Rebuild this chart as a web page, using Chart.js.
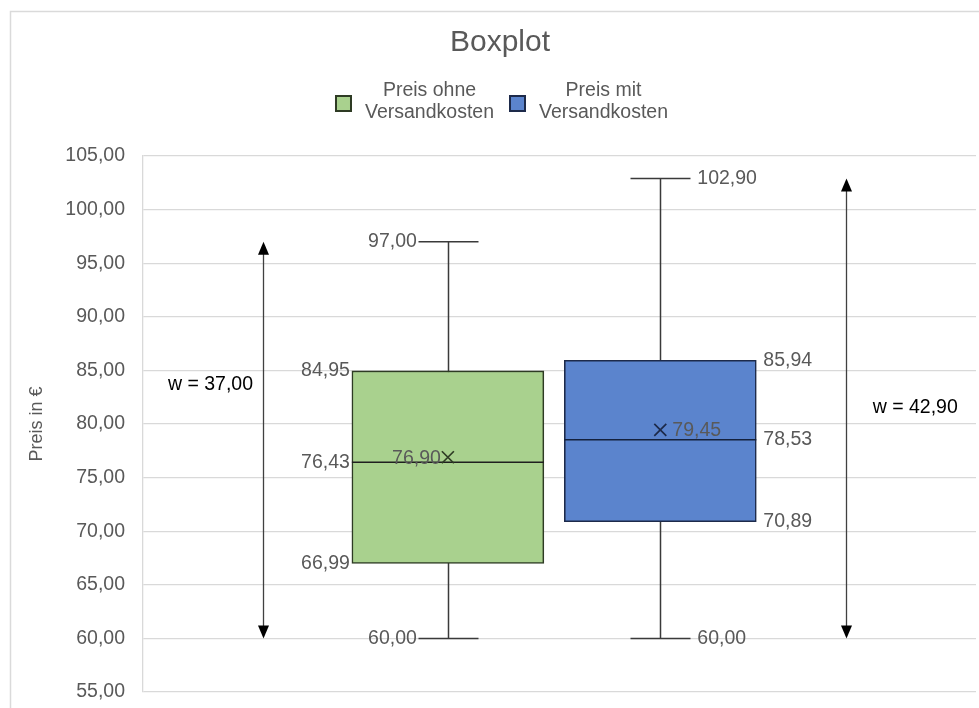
<!DOCTYPE html>
<html>
<head>
<meta charset="utf-8">
<script src="https://cdn.jsdelivr.net/npm/chart.js@4.4.1/dist/chart.umd.min.js"></script>
<style>
  html, body { margin: 0; padding: 0; background: #ffffff; }
  #wrap { width: 979px; height: 708px; }
</style>
</head>
<body>
<div id="wrap"><canvas id="c" width="979" height="708"></canvas></div>
<script>
// Five-number summary plus mean for each price series
const seriesNames  = [['Preis ohne', 'Versandkosten'], ['Preis mit', 'Versandkosten']];
const minValues    = [60.00, 60.00];
const q1Values     = [66.99, 70.89];
const medianValues = [76.43, 78.53];
const q3Values     = [84.95, 85.94];
const maxValues    = [97.00, 102.90];
const meanValues   = [76.90, 79.45];
const yTickValues  = [55, 60, 65, 70, 75, 80, 85, 90, 95, 100, 105];

const FONT = "'Liberation Sans', Arial, sans-serif";
const TEXT = '#595959';
const fmt = v => v.toFixed(2).replace('.', ',');

// Placement on the hidden 0..100 horizontal scale and per-series styling
const place = {
  boxX: [36.6, 62.1],
  arrowX: [14.4, 84.4],
  rangeLabel: [{ x: 8.1, y: 83.7 }, { x: 92.7, y: 81.5 }]
};
const styles = [
  { fill: '#a9d18e', edge: '#2e3b24', median: '#1f1f1f', side: 'left' },
  { fill: '#5b84cd', edge: '#1d2a4a', median: '#14213d', side: 'right' }
];
const BOX_W = 192, CAP_HALF = 30;

const boxplotMarks = {
  id: 'boxplotMarks',
  beforeDraw(chart) {
    const ctx = chart.ctx;
    ctx.save();
    ctx.fillStyle = '#ffffff';
    ctx.fillRect(0, 0, chart.width, chart.height);
    // outer frame
    ctx.strokeStyle = '#dadada';
    ctx.lineWidth = 1.5;
    ctx.strokeRect(10.5, 11.5, 1000, 740);
    // title
    ctx.fillStyle = TEXT;
    ctx.font = `30px ${FONT}`;
    ctx.textAlign = 'center';
    ctx.textBaseline = 'middle';
    ctx.fillText('Boxplot', 500, 43);
    // legend with two-line entries
    ctx.font = `19.5px ${FONT}`;
    const sq = 15, gapIn = 14, gapOut = 16;
    const widths = seriesNames.map(l => Math.max(...l.map(t => ctx.measureText(t).width)));
    const total = widths.reduce((a, w) => a + sq + gapIn + w, 0) + gapOut;
    let x = 502 - total / 2;
    seriesNames.forEach((lines, i) => {
      ctx.fillStyle = styles[i].fill;
      ctx.fillRect(x, 96, sq, sq);
      ctx.strokeStyle = styles[i].edge;
      ctx.lineWidth = 2;
      ctx.strokeRect(x, 96, sq, sq);
      const cx = x + sq + gapIn + widths[i] / 2;
      ctx.fillStyle = TEXT;
      ctx.textAlign = 'center';
      ctx.fillText(lines[0], cx, 91);
      ctx.fillText(lines[1], cx, 113);
      x += sq + gapIn + widths[i] + gapOut;
    });
    ctx.restore();
  },
  beforeDatasetsDraw(chart) {
    const { ctx, scales: { x: xs, y: ys } } = chart;
    ctx.save();
    ctx.strokeStyle = '#3a3a3a';
    ctx.lineWidth = 1.5;
    minValues.forEach((mn, i) => {
      const cx = Math.round(xs.getPixelForValue(place.boxX[i])) + 0.5;
      const yMin = ys.getPixelForValue(mn), yMax = ys.getPixelForValue(maxValues[i]);
      ctx.beginPath();
      ctx.moveTo(cx, yMin); ctx.lineTo(cx, yMax);
      ctx.moveTo(cx - CAP_HALF, yMin); ctx.lineTo(cx + CAP_HALF, yMin);
      ctx.moveTo(cx - CAP_HALF, yMax); ctx.lineTo(cx + CAP_HALF, yMax);
      ctx.stroke();
    });
    ctx.restore();
  },
  afterDatasetsDraw(chart) {
    const { ctx, scales: { x: xs, y: ys } } = chart;
    ctx.save();
    ctx.textBaseline = 'middle';
    seriesNames.forEach((_, i) => {
      const bar = chart.getDatasetMeta(i).data[0];
      const { x: cx, width } = bar.getProps(['x', 'width'], true);
      const left = cx - width / 2, right = cx + width / 2;
      const st = styles[i];
      // median line
      const yMed = ys.getPixelForValue(medianValues[i]);
      ctx.strokeStyle = st.median;
      ctx.lineWidth = 1.6;
      ctx.beginPath(); ctx.moveTo(left, yMed); ctx.lineTo(right, yMed); ctx.stroke();
      // mean marker
      const yMean = ys.getPixelForValue(meanValues[i]);
      ctx.strokeStyle = st.edge;
      ctx.lineWidth = 1.7;
      ctx.beginPath();
      ctx.moveTo(cx - 6, yMean - 6); ctx.lineTo(cx + 6, yMean + 6);
      ctx.moveTo(cx + 6, yMean - 6); ctx.lineTo(cx - 6, yMean + 6);
      ctx.stroke();
      // value labels
      ctx.font = `19.5px ${FONT}`;
      ctx.fillStyle = TEXT;
      const onLeft = st.side === 'left';
      ctx.textAlign = onLeft ? 'right' : 'left';
      const whiskX = onLeft ? cx - CAP_HALF - 1 : cx + CAP_HALF + 7;
      const boxX = onLeft ? left - 2 : right + 7;
      const meanX = onLeft ? cx - 7 : cx + 12;
      ctx.fillText(fmt(maxValues[i]), whiskX, ys.getPixelForValue(maxValues[i]));
      ctx.fillText(fmt(minValues[i]), whiskX, ys.getPixelForValue(minValues[i]));
      ctx.fillText(fmt(q3Values[i]), boxX, ys.getPixelForValue(q3Values[i]));
      ctx.fillText(fmt(medianValues[i]), boxX, yMed);
      ctx.fillText(fmt(q1Values[i]), boxX, ys.getPixelForValue(q1Values[i]));
      ctx.fillText(fmt(meanValues[i]), meanX, yMean + 1);
      // range arrow (max - min)
      const ax = Math.round(xs.getPixelForValue(place.arrowX[i])) + 0.5;
      const yTop = ys.getPixelForValue(maxValues[i]), yBot = ys.getPixelForValue(minValues[i]);
      ctx.strokeStyle = '#404040';
      ctx.lineWidth = 1.3;
      ctx.beginPath(); ctx.moveTo(ax, yTop + 10); ctx.lineTo(ax, yBot - 10); ctx.stroke();
      ctx.fillStyle = '#000000';
      ctx.beginPath(); ctx.moveTo(ax, yTop); ctx.lineTo(ax - 5.5, yTop + 13); ctx.lineTo(ax + 5.5, yTop + 13); ctx.closePath(); ctx.fill();
      ctx.beginPath(); ctx.moveTo(ax, yBot); ctx.lineTo(ax - 5.5, yBot - 13); ctx.lineTo(ax + 5.5, yBot - 13); ctx.closePath(); ctx.fill();
      // range label
      ctx.fillStyle = '#000000';
      ctx.textAlign = 'center';
      const rl = place.rangeLabel[i];
      ctx.fillText('w = ' + fmt(maxValues[i] - minValues[i]), xs.getPixelForValue(rl.x), ys.getPixelForValue(rl.y));
    });
    ctx.restore();
  }
};

new Chart(document.getElementById('c'), {
  type: 'bar',
  data: {
    datasets: seriesNames.map((name, i) => ({
      label: name.join(' '),
      data: [{ x: place.boxX[i], y: [q1Values[i], q3Values[i]] }],
      backgroundColor: styles[i].fill,
      borderColor: styles[i].edge,
      borderWidth: 1.6,
      borderSkipped: false,
      barThickness: BOX_W,
      grouped: false
    }))
  },
  options: {
    responsive: false,
    animation: false,
    layout: { padding: { top: 156, right: 3, bottom: 16, left: 0 } },
    plugins: {
      legend: { display: false },
      title: { display: false },
      tooltip: { enabled: false }
    },
    scales: {
      x: { type: 'linear', min: 0, max: 100, offset: false, display: false },
      y: {
        min: 55, max: 105,
        afterBuildTicks: s => { s.ticks = yTickValues.map(v => ({ value: v })); },
        afterFit: s => { s.width = 143; s.paddingTop = 0; s.paddingBottom = 0; },
        ticks: {
          color: TEXT,
          padding: 18,
          font: { family: FONT, size: 19.5 },
          callback: v => fmt(v)
        },
        grid: { color: '#d9d9d9', lineWidth: 1.3, drawTicks: false },
        border: { display: true, color: '#d9d9d9', width: 1.3 },
        title: {
          display: true, text: 'Preis in €', color: TEXT,
          font: { family: FONT, size: 18 },
          padding: { top: 26, bottom: 0 }
        }
      }
    }
  },
  plugins: [boxplotMarks]
});
</script>
</body>
</html>
